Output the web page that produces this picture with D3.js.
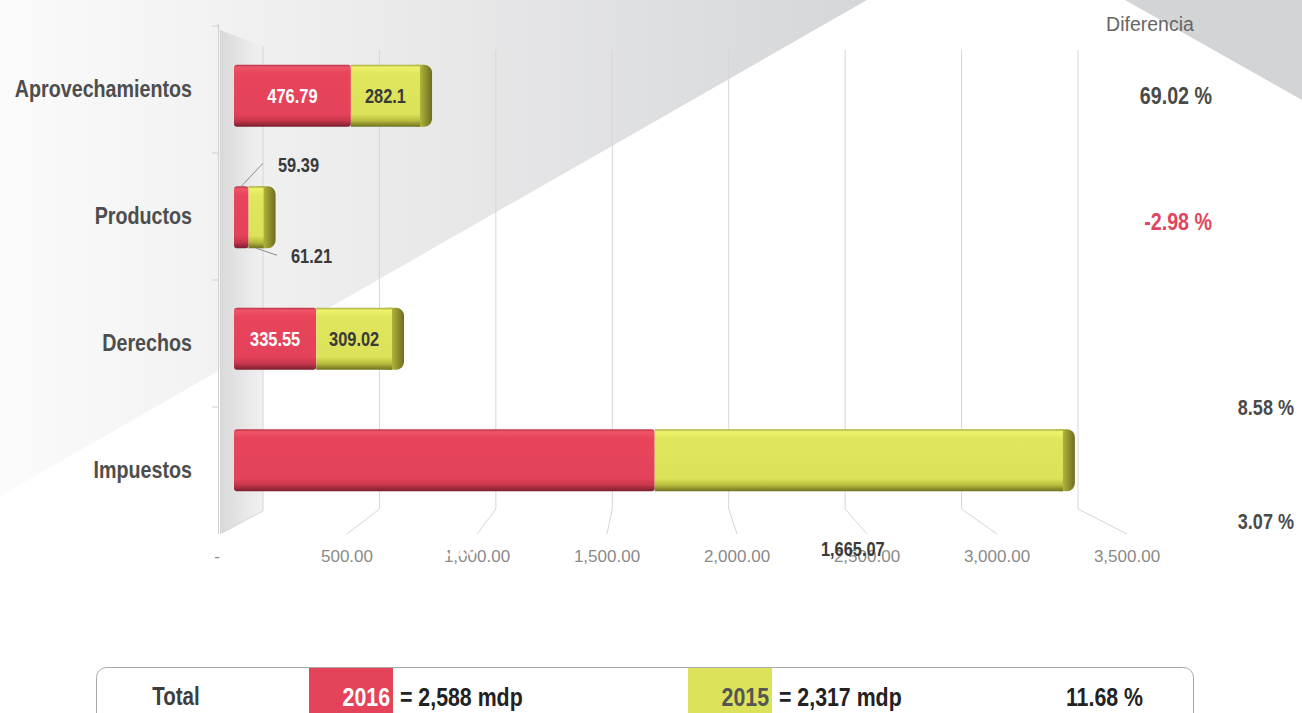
<!DOCTYPE html>
<html>
<head>
<meta charset="utf-8">
<script src="https://cdn.jsdelivr.net/npm/d3@7"></script>
<style>
body { margin: 0; background: #fff; }
text { font-family: "Liberation Sans", Arial, sans-serif; }
</style>
</head>
<body>
<div id="chart"></div>
<script>
// data (mdp)
var categories = ["Aprovechamientos", "Productos", "Derechos", "Impuestos"];
var values2016 = [476.79, 59.39, 335.55, 1716.2];
var values2015 = [282.1, 61.21, 309.02, 1665.07];
var diffLabels = ["69.02 %", "-2.98 %", "8.58 %", "3.07 %"];
var xTicks = [0, 500, 1000, 1500, 2000, 2500, 3000, 3500];
var years = ["2016", "2015"];
var yearTotals = [2588, 2317];
var totalDiff = "11.68 %";

var width = 1302, height = 713;
var red = "#e5435a", yellow = "#dce35b";

var svg = d3.select("#chart")
    .append("svg")
    .attr("width", width)
    .attr("height", height);

var defs = svg.append("defs");

function gradient(id, stops, horizontal, user) {
    var g = defs.append("linearGradient").attr("id", id)
        .attr("x1", 0).attr("y1", 0)
        .attr("x2", horizontal ? 1 : 0).attr("y2", horizontal ? 0 : 1);
    if (user) {
        g.attr("gradientUnits", "userSpaceOnUse")
            .attr("x1", user[0]).attr("x2", user[1]).attr("y1", 0).attr("y2", 0);
    }
    stops.forEach(function (s) {
        g.append("stop").attr("offset", s[0]).attr("stop-color", s[1]);
    });
}

// no Arial Narrow here, so squeeze the text like the original condensed face
function narrow(sel, k) {
    sel.each(function () {
        var len = this.getComputedTextLength();
        d3.select(this)
            .attr("textLength", len * (k || 0.82))
            .attr("lengthAdjust", "spacingAndGlyphs");
    });
}

gradient("bgGrad", [[0, "#fbfbfb"], [1, "#d5d6d8"]], true, [0, 870]);
gradient("wallGrad", [[0, "#d9d9d9"], [1, "#f1f1f1"]], true);
gradient("redGrad", [[0, "#b8344a"], [0.04, "#f05468"], [0.14, "#e8455c"], [0.8, "#e3425a"],
    [0.9, "#c8364c"], [1, "#7a1f2e"]]);
gradient("yelGrad", [[0, "#a6aa35"], [0.04, "#eef26c"], [0.14, "#e1e75d"], [0.8, "#dbe158"],
    [0.9, "#b9bd3e"], [1, "#6f7020"]]);
gradient("capGrad", [[0, "#d5db52"], [0.5, "#b0b43a"], [1, "#6d6d22"]], true);

// background shapes
svg.append("rect").attr("width", width).attr("height", height).attr("fill", "#fff");
svg.append("polygon")
    .attr("points", "0,0 867,0 0,496")
    .attr("fill", "url(#bgGrad)");
svg.append("polygon")
    .attr("points", "1125,0 1302,0 1302,100")
    .attr("fill", "#d3d4d6");

// scales (the 3D plot has a back plane, a front plane and the floor labels)
var xBar = d3.scaleLinear().domain([0, 3500]).range([234, 1092]);
var xBack = d3.scaleLinear().domain([0, 3500]).range([263, 1078]);
var xLabel = d3.scaleLinear().domain([0, 3500]).range([217, 1127]);

var y = d3.scaleBand()
    .domain(categories)
    .range([35, 521])
    .paddingInner(0.49)
    .paddingOuter(0.245);

var yLabel = d3.scaleBand()
    .domain(categories)
    .range([25.5, 533.5]);

var fmt = d3.format(",.2f");

// side wall
svg.append("polygon")
    .attr("points", [[220, 30], [263, 46], [263, 511], [220, 534]].join(" "))
    .attr("fill", "url(#wallGrad)");

// grid lines on the back plane + floor lines to the labels
var grid = svg.append("g");
grid.selectAll("path")
    .data(xTicks)
    .enter()
    .append("path")
    .attr("d", function (d) {
        if (d === 0) return "M" + xBack(d) + ",46V511L220,534";
        return "M" + xBack(d) + ",50V509L" + xLabel(d) + ",534";
    })
    .attr("fill", "none")
    .attr("stroke", "#d6d6d6")
    .attr("stroke-width", 1);

// left axis
svg.append("line")
    .attr("x1", 218.5).attr("x2", 218.5)
    .attr("y1", 24).attr("y2", 534)
    .attr("stroke", "#d0d0d0");
svg.selectAll(".ytick")
    .data(categories)
    .enter()
    .append("line")
    .attr("class", "ytick")
    .attr("x1", 212).attr("x2", 218)
    .attr("y1", function (d) { return yLabel(d) + 0.5; })
    .attr("y2", function (d) { return yLabel(d) + 0.5; })
    .attr("stroke", "#cfcfcf");

// x tick labels
svg.selectAll(".xlab")
    .data(xTicks)
    .enter()
    .append("text")
    .attr("class", "xlab")
    .attr("x", function (d) { return xLabel(d); })
    .attr("y", 562)
    .attr("text-anchor", "middle")
    .style("font-size", "17px")
    .style("fill", "#8a8a8a")
    .text(function (d) { return d === 0 ? "-" : fmt(d); });

// category labels
svg.selectAll(".cat")
    .data(categories)
    .enter()
    .append("text")
    .attr("class", "cat")
    .attr("x", 192)
    .attr("y", function (d) { return yLabel(d) + yLabel.bandwidth() / 2; })
    .attr("dy", "0.35em")
    .attr("text-anchor", "end")
    .style("font-size", "24px")
    .style("font-weight", "bold")
    .style("fill", "#4d4d4d")
    .text(function (d) { return d; })
    .call(narrow);

// bars
var rows = categories.map(function (c, i) {
    return { cat: c, v16: values2016[i], v15: values2015[i], i: i };
});

var bar = svg.selectAll(".bar")
    .data(rows)
    .enter()
    .append("g")
    .attr("class", "bar")
    .attr("transform", function (d) { return "translate(0," + y(d.cat) + ")"; });

var bh = y.bandwidth();

bar.append("rect")
    .attr("x", function (d) { return xBar(d.v16 + d.v15) - 12; })
    .attr("y", 0)
    .attr("width", 24)
    .attr("height", bh)
    .attr("rx", 8)
    .attr("fill", "url(#capGrad)");

bar.append("rect")
    .attr("x", xBar(0))
    .attr("y", 0)
    .attr("width", function (d) { return xBar(d.v16) - xBar(0); })
    .attr("height", bh)
    .attr("rx", 3)
    .attr("fill", "url(#redGrad)");

bar.append("rect")
    .attr("x", function (d) { return xBar(d.v16); })
    .attr("y", 0)
    .attr("width", function (d) { return xBar(d.v16 + d.v15) - xBar(d.v16); })
    .attr("height", bh)
    .attr("fill", "url(#yelGrad)");

// value labels: inside the segments, Productos outside with leaders,
// Impuestos dropped below the floor as in the original
function segMid(a, b) { return (xBar(a) + xBar(b)) / 2; }

var labels = [];
rows.forEach(function (d) {
    var cy = y(d.cat) + bh / 2;
    if (d.cat === "Productos") {
        labels.push({ x: xBar(0) + 44, y: y(d.cat) - 21, t: String(d.v16), c: "#3a3a3a", a: "start",
            lx: segMid(0, d.v16), ly: y(d.cat), ex: xBar(0) + 29, ey: y(d.cat) - 23 });
        labels.push({ x: xBar(0) + 57, y: y(d.cat) + bh + 8, t: String(d.v15), c: "#3a3a3a", a: "start",
            lx: segMid(d.v16, d.v16 + d.v15), ly: y(d.cat) + bh, ex: xBar(0) + 43, ey: y(d.cat) + bh + 7 });
    } else if (d.cat === "Impuestos") {
        labels.push({ x: segMid(0, d.v16), y: 549, t: fmt(d.v16), c: "#ffffff", a: "middle" });
        labels.push({ x: segMid(d.v16, d.v16 + d.v15) - 6, y: 549, t: fmt(d.v15), c: "#3a3a3a", a: "middle" });
    } else {
        labels.push({ x: segMid(0, d.v16), y: cy, t: String(d.v16), c: "#ffffff", a: "middle" });
        labels.push({ x: segMid(d.v16, d.v16 + d.v15), y: cy, t: String(d.v15), c: "#3a3a3a", a: "middle" });
    }
});

svg.selectAll(".leader")
    .data(labels.filter(function (d) { return d.lx !== undefined; }))
    .enter()
    .append("line")
    .attr("class", "leader")
    .attr("x1", function (d) { return d.lx; })
    .attr("y1", function (d) { return d.ly; })
    .attr("x2", function (d) { return d.ex; })
    .attr("y2", function (d) { return d.ey; })
    .attr("stroke", "#8a8a8a");

svg.selectAll(".val")
    .data(labels)
    .enter()
    .append("text")
    .attr("class", "val")
    .attr("x", function (d) { return d.x; })
    .attr("y", function (d) { return d.y; })
    .attr("dy", "0.35em")
    .attr("text-anchor", function (d) { return d.a; })
    .style("font-size", "20px")
    .style("font-weight", "bold")
    .style("fill", function (d) { return d.c; })
    .text(function (d) { return d.t; })
    .call(narrow);

// Diferencia column
svg.append("text")
    .attr("x", 1150)
    .attr("y", 24)
    .attr("dy", "0.35em")
    .attr("text-anchor", "middle")
    .style("font-size", "19.5px")
    .style("fill", "#666")
    .text("Diferencia");

var diffShift = [[1212, 0, 24], [1212, 4, 24], [1294, 69, 22], [1294, 61, 22]];
svg.selectAll(".diff")
    .data(diffLabels)
    .enter()
    .append("text")
    .attr("class", "diff")
    .attr("x", function (d, i) { return diffShift[i][0]; })
    .attr("y", function (d, i) { return y(categories[i]) + bh / 2 + diffShift[i][1]; })
    .attr("dy", "0.35em")
    .attr("text-anchor", "end")
    .style("font-size", function (d, i) { return diffShift[i][2] + "px"; })
    .style("font-weight", "bold")
    .style("fill", function (d) { return d.charAt(0) === "-" ? "#e0465e" : "#4a4a4a"; })
    .text(function (d) { return d; })
    .call(narrow);

// totals box at the bottom
var legend = svg.append("g");
legend.append("rect")
    .attr("x", 96.5).attr("y", 667.5)
    .attr("width", 1097).attr("height", 70)
    .attr("rx", 10)
    .attr("fill", "#fff")
    .attr("stroke", "#a9a9a9");

legend.append("text")
    .attr("x", 176).attr("y", 705)
    .attr("text-anchor", "middle")
    .style("font-size", "25px")
    .style("font-weight", "bold")
    .style("fill", "#3d3d3d")
    .text("Total")
    .call(narrow);

var swatchX = [309, 688];
var swatchCol = [red, yellow];
var swatchText = ["#ffffff", "#555"];
years.forEach(function (yr, i) {
    legend.append("rect")
        .attr("x", swatchX[i]).attr("y", 668)
        .attr("width", 84).attr("height", 45)
        .attr("fill", swatchCol[i]);
    legend.append("text")
        .attr("x", swatchX[i] + 81).attr("y", 706)
        .attr("text-anchor", "end")
        .style("font-size", "26px")
        .style("font-weight", "bold")
        .style("fill", swatchText[i])
        .text(yr)
        .call(narrow);
    legend.append("text")
        .attr("x", swatchX[i] + 91).attr("y", 706)
        .style("font-size", "26px")
        .style("font-weight", "bold")
        .style("fill", "#222")
        .text("= " + d3.format(",")(yearTotals[i]) + " mdp")
        .call(narrow);
});

legend.append("text")
    .attr("x", 1143).attr("y", 706)
    .attr("text-anchor", "end")
    .style("font-size", "26px")
    .style("font-weight", "bold")
    .style("fill", "#222")
    .text(totalDiff)
    .call(narrow);
</script>
</body>
</html>
